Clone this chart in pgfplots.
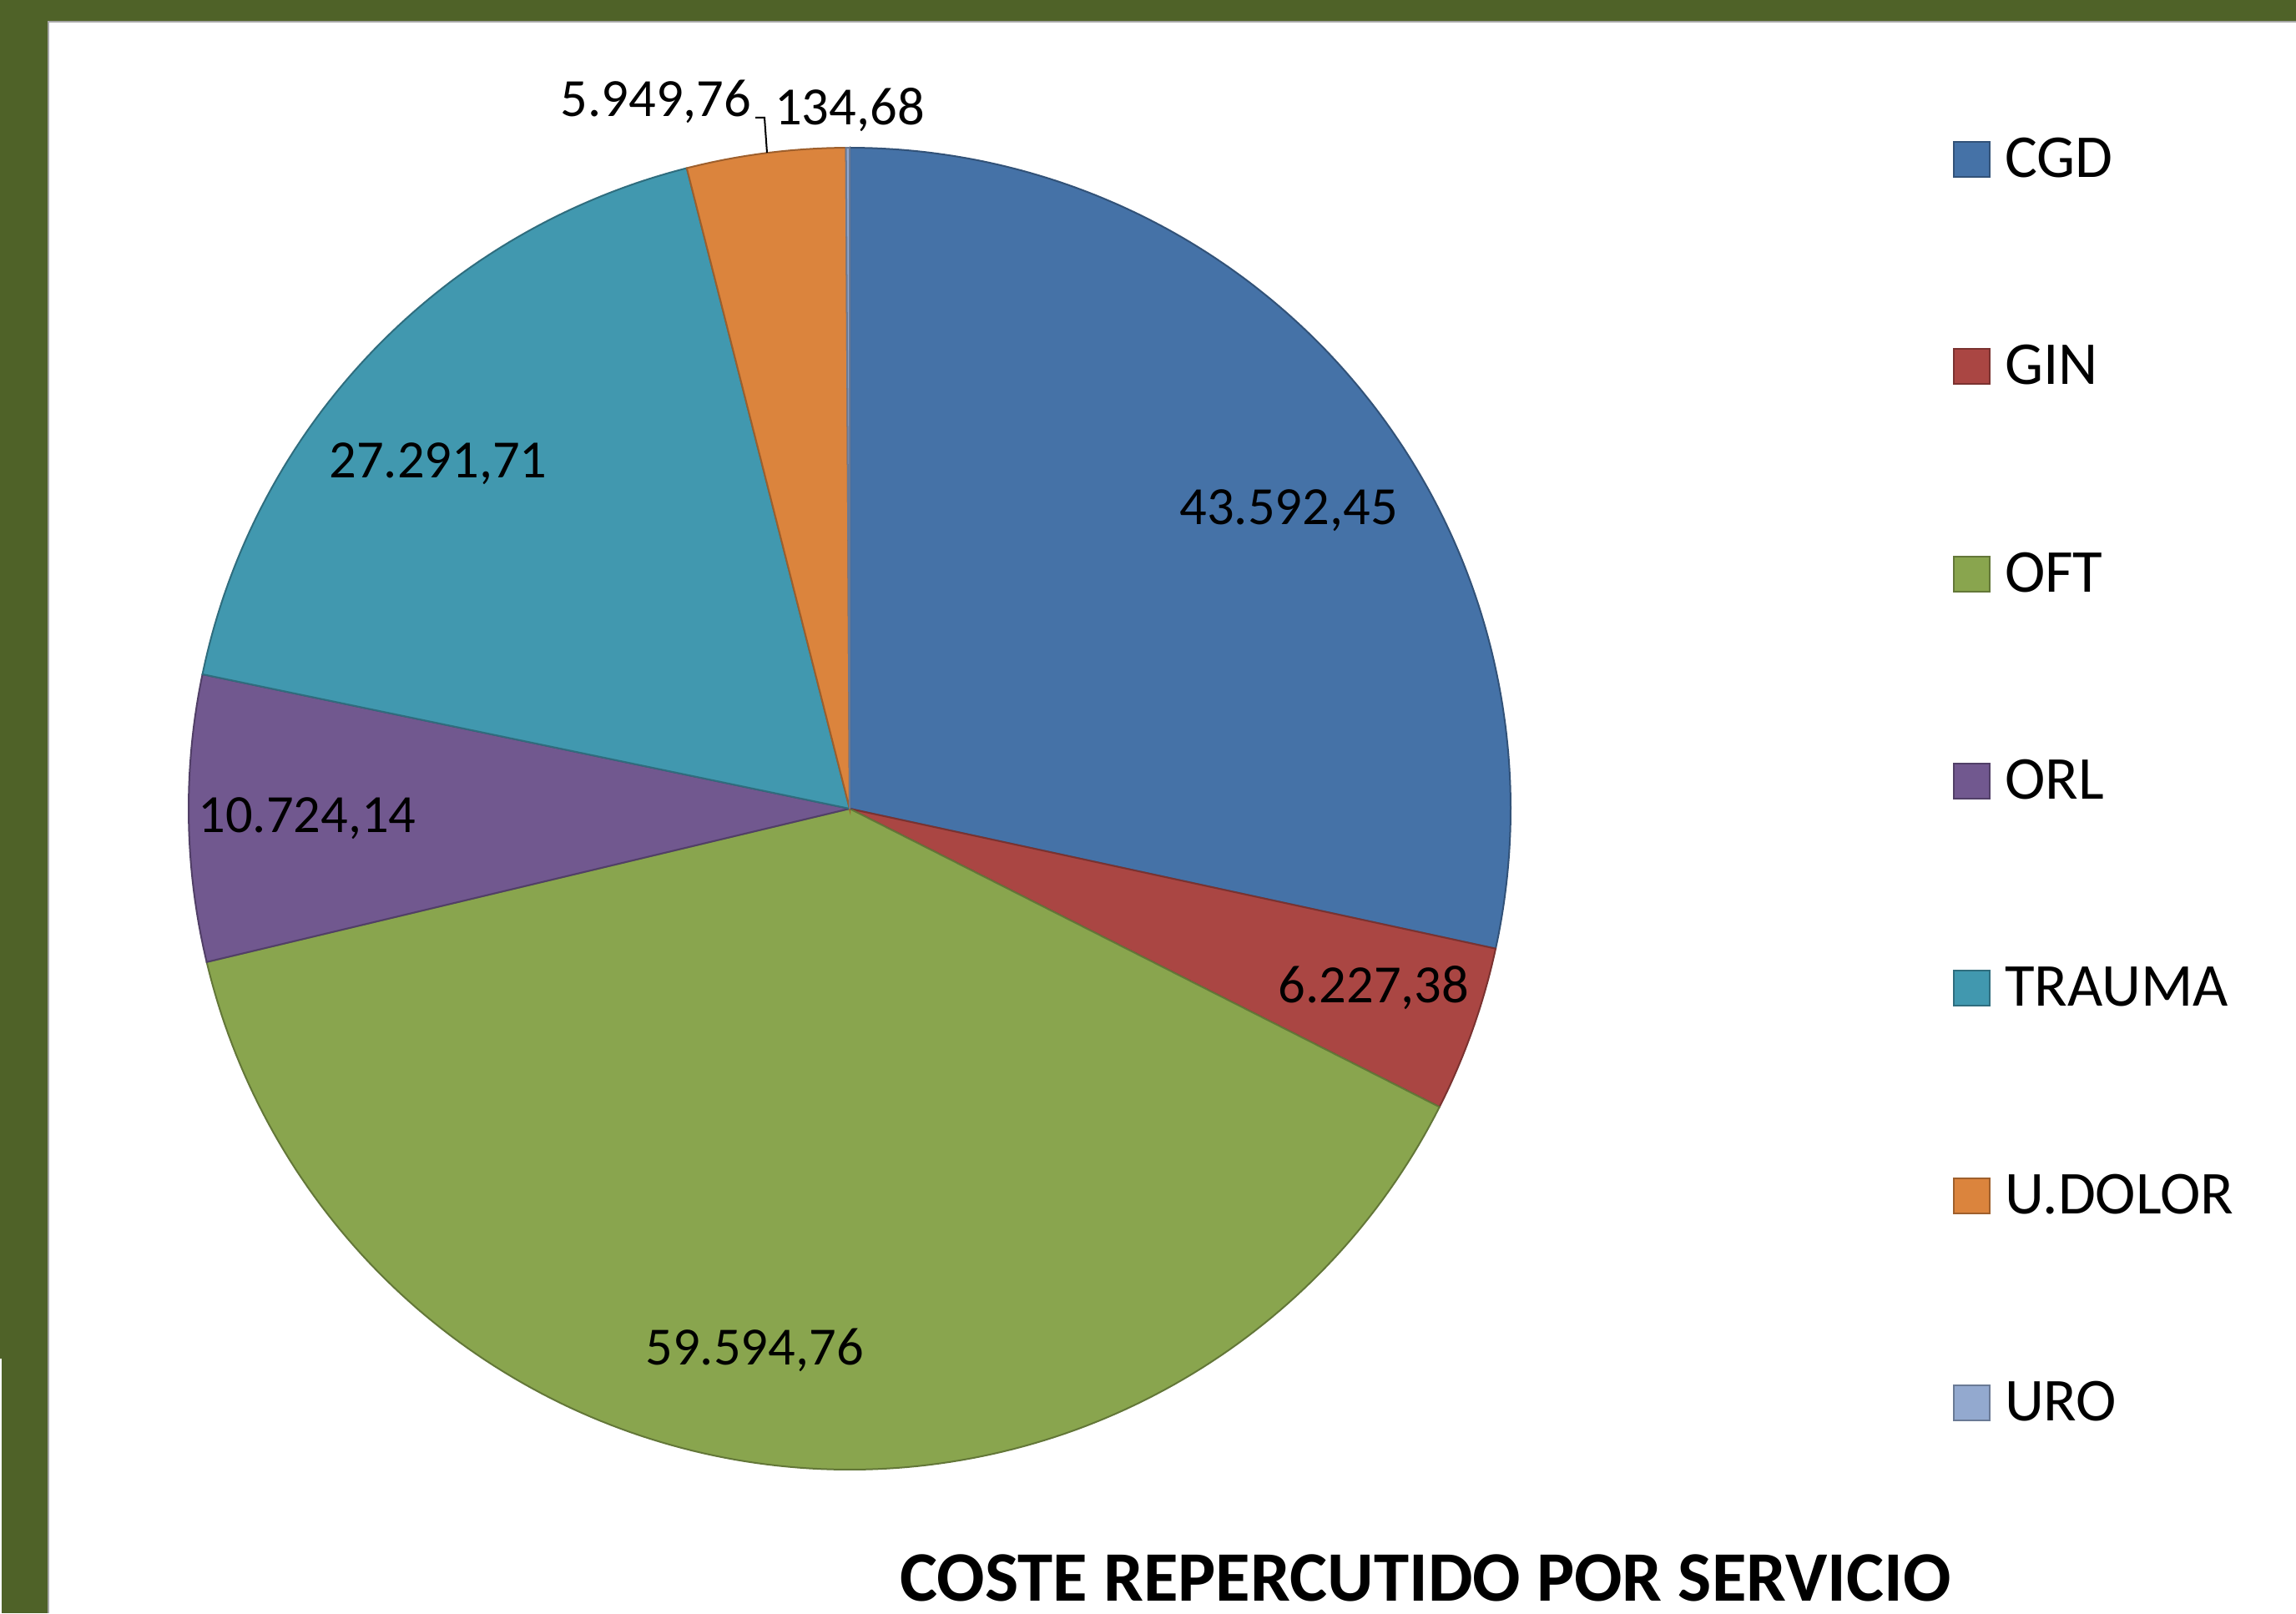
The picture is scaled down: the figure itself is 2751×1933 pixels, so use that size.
\documentclass[border=0pt]{standalone}
\usepackage{pgfplots}
\pgfplotsset{compat=1.18}
\usepackage{pgfplotstable}
\usepackage{fontspec}
\setmainfont{Carlito}

\pgfplotstableread{
name value
CGD 43592.45
GIN 6227.38
OFT 59594.76
ORL 10724.14
TRAUMA 27291.71
U.DOLOR 5949.76
URO 134.68
}\pietable

\newcommand\getv[2]{\pgfplotstablegetelem{#1}{value}\of\pietable\xdef#2{\pgfplotsretval}}
\getv{0}\vA \getv{1}\vB \getv{2}\vC \getv{3}\vD \getv{4}\vE \getv{5}\vF \getv{6}\vG
\edef\total{\fpeval{\vA+\vB+\vC+\vD+\vE+\vF+\vG}}
\edef\aA{90}
\edef\aB{\fpeval{\aA-360*\vA/\total}}
\edef\aC{\fpeval{\aB-360*\vB/\total}}
\edef\aD{\fpeval{\aC-360*\vC/\total}}
\edef\aE{\fpeval{\aD-360*\vD/\total}}
\edef\aF{\fpeval{\aE-360*\vE/\total}}
\edef\aG{\fpeval{\aF-360*\vF/\total}}
\edef\aH{\fpeval{\aG-360*\vG/\total}}

\definecolor{cgd}{HTML}{4572A7}
\definecolor{gin}{HTML}{AA4643}
\definecolor{oft}{HTML}{89A54E}
\definecolor{orl}{HTML}{71588F}
\definecolor{trauma}{HTML}{4198AF}
\definecolor{udolor}{HTML}{DB843D}
\definecolor{uro}{HTML}{93A9CF}
\definecolor{frame}{HTML}{4F6228}

\newcommand\pieslice[3]{%
  \addplot[fill=#3, draw=#3!72!black, line width=0.4pt, domain=#1:#2, samples=150, variable=\t]
    ({1018+792*cos(\t)},{964+792*sin(\t)}) -- (1018,964) -- cycle;}

\newcommand\legentry[3]{%
  \fill[#2, draw=#2!72!black, line width=0.4pt] (2341,#1) rectangle (2384,#1+42);
  \node[anchor=base west, inner sep=0pt, font=\fontsize{14.6}{16}\selectfont] at (2401,#1) {#3};}

\begin{document}
\begin{tikzpicture}
\begin{axis}[
  x=0.2pt, y=0.2pt, xmin=0, xmax=2751, ymin=0, ymax=1933,
  scale only axis, hide axis, clip=false]
  % background and frame
  \fill[white] (0,0) rectangle (2751,1933);
  \fill[frame] (0,1908) rectangle (2751,1933);
  \fill[frame] (0,0) rectangle (57,1933);
  \fill[gray!70] (57,0) rectangle (59,1906);
  \fill[gray!70] (57,1906) rectangle (2751,1908);
  \fill[white] (0,0) rectangle (2,305);
  % slices
  \pieslice{\aB}{\aA}{cgd}
  \pieslice{\aC}{\aB}{gin}
  \pieslice{\aD}{\aC}{oft}
  \pieslice{\aE}{\aD}{orl}
  \pieslice{\aF}{\aE}{trauma}
  \pieslice{\aG}{\aF}{udolor}
  \pieslice{\aH}{\aG}{uro}
  % data labels
  \begin{scope}[every node/.style={inner sep=0pt, font=\fontsize{12.9}{15}\selectfont}]
    \node at (1544,1321) {43.592,45};
    \node at (1646,749) {6.227,38};
    \node at (904,315) {59.594,76};
    \node at (368,952) {10.724,14};
    \node at (525,1377) {27.291,71};
    \node at (786,1811) {5.949,76};
    \node at (1018,1801) {134,68};
  \end{scope}
  \draw[black, line width=0.4pt] (905,1792) -- (916,1792) -- (919,1750);
  % legend
  \legentry{1721}{cgd}{CGD}
  \legentry{1473}{gin}{GIN}
  \legentry{1224}{oft}{OFT}
  \legentry{976}{orl}{ORL}
  \legentry{728}{trauma}{TRAUMA}
  \legentry{479}{udolor}{U.DOLOR}
  \legentry{231}{uro}{URO}
  % title
  \node[anchor=base, inner sep=0pt, font=\bfseries\fontsize{17}{20}\selectfont] at (1708,15) {COSTE REPERCUTIDO POR SERVICIO};
\end{axis}
\end{tikzpicture}
\end{document}
